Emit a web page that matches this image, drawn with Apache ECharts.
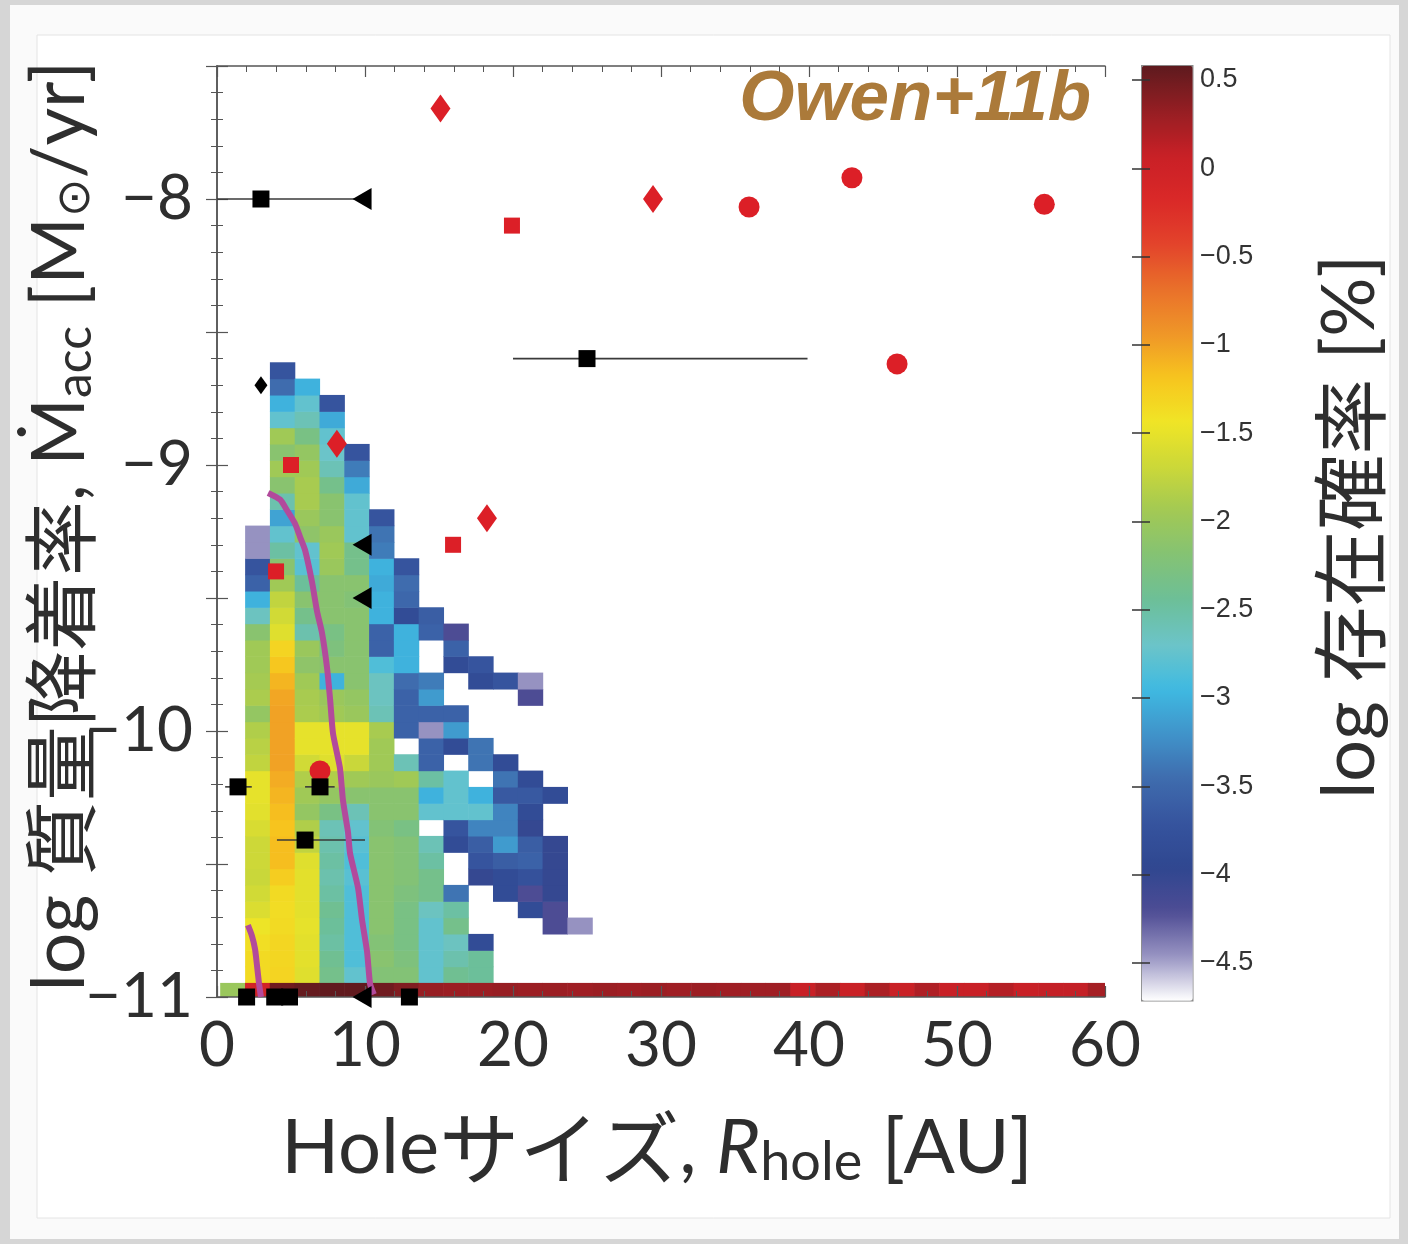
<!DOCTYPE html>
<html><head><meta charset="utf-8">
<script src="https://cdn.jsdelivr.net/npm/echarts@6/dist/echarts.min.js"></script>
<style>html,body{margin:0;padding:0;background:#fff}#c{width:1408px;height:1244px}</style>
</head><body><div id="c"></div>
<script>
// ---------- axis / tick values ----------
const xTicks = [0, 10, 20, 30, 40, 50, 60];
const yTickLabels = [-11, -10, -9, -8];
const cbTicks = [-4.5, -4, -3.5, -3, -2.5, -2, -1.5, -1, -0.5, 0, 0.5];

// ---------- histogram bins (data units) ----------
const binX0 = 1.9, binW = 1.675;          // R_hole bins [AU]
const binY0 = -10.947, binH = 0.0614;     // log Mdot bins
const stripX0 = 0.215, stripY0 = -11.0, stripH = 0.053; // non-accreting row

// log probability per column, listed from the lowest bin upward (null = empty)
const hc0 = [-1.35,-1.35,-1.38,-1.45,-1.58,-1.65,-1.7,-1.68,-1.68,-1.6,-1.53,-1.5,-1.5,-1.75,-1.8,-1.85,-2.05,-1.88,-1.92,-1.95,-1.95,-2.15,-2.65,-3.0,-3.55,-3.7,-4.45,-4.45];
const hc1 = [-1.3,-1.32,-1.32,-1.35,-1.36,-1.35,-1.25,-1.15,-1.15,-1.18,-1.15,-1.1,-1.05,-1.0,-1.0,-1.0,-1.0,-1.02,-1.1,-1.2,-1.3,-1.55,-1.65,-1.75,-1.95,-2.15,-2.5,-2.75,-3.1,-2.55,-2.15,-1.95,-2.15,-1.95,-2.75,-3.0,-3.45,-3.7];
const hc2 = [-1.55,-1.52,-1.52,-1.5,-1.52,-1.52,-1.52,-1.55,-1.75,-1.85,-2.05,-1.95,-1.85,-1.65,-1.5,-1.5,-1.88,-1.9,-1.95,-2.1,-2.0,-2.55,-2.35,-2.15,-2.45,-2.8,-2.75,-2.1,-2.0,-1.9,-1.9,-1.95,-2.05,-2.3,-2.6,-2.75,-3.0];
const hc3 = [-2.35,-2.4,-2.5,-2.45,-2.4,-2.5,-2.55,-2.5,-2.55,-2.6,-2.3,-2.05,-1.85,-1.55,-1.5,-1.5,-1.95,-2.0,-3.0,-2.15,-2.25,-2.3,-2.15,-2.15,-2.15,-2.0,-1.95,-2.0,-2.15,-2.15,-2.35,-2.6,-2.7,-2.75,-3.05,-3.7];
const hc4 = [-2.75,-2.85,-2.85,-2.85,-2.85,-2.85,-2.8,-2.85,-2.8,-2.75,-2.6,-2.15,-1.95,-1.7,-1.5,-1.5,-2.0,-2.05,-2.15,-2.15,-2.15,-2.15,-2.15,-2.2,-2.15,-2.35,-2.35,-2.75,-2.75,-2.75,-3.05,-3.35,-3.7];
const hc5 = [-2.2,-2.15,-2.2,-2.15,-2.15,-2.15,-2.15,-2.15,-2.15,-2.2,-2.15,-2.15,-2.0,-1.95,-1.95,-1.9,-2.6,-2.65,-2.65,-2.85,-3.55,-3.55,-3.0,-3.0,-3.05,-3.0,-3.35,-3.4,-3.7];
const hc6 = [-2.2,-2.25,-2.3,-2.3,-2.3,-2.25,-2.2,-2.2,-2.2,-2.3,-2.15,-2.15,-1.95,-2.6,null,-3.55,-3.55,-3.55,-3.45,-3.0,-3.0,-3.0,-3.85,-3.5,-3.45,-3.7];
const hc7 = [-2.75,-2.75,-2.75,-2.75,-2.65,-2.35,-2.35,-2.5,-2.6,null,-2.75,-3.0,-2.5,-3.55,-3.55,-4.45,-3.55,-3.15,-3.35,null,null,-3.55,-3.6];
const hc8 = [-2.4,-2.55,-2.65,-2.35,-2.5,-3.4,null,null,-3.85,-3.7,-2.75,-2.75,-2.75,null,-3.85,-3.15,-3.55,null,null,-3.85,-3.55,-4.2];
const hc9 = [-2.45,-2.45,-3.85,null,null,null,-4.0,-3.7,-3.6,-3.3,-2.75,-3.0,null,-3.4,-3.4,null,null,null,-3.85,-3.7];
const hc10 = [null,null,null,null,null,-3.85,-3.85,-3.6,-3.15,-3.3,-3.3,-3.65,-3.4,-3.85,null,null,null,null,-3.7];
const hc11 = [null,null,null,null,-3.85,-4.2,-3.75,-3.55,-3.6,-4.0,-3.85,-3.65,-3.85,null,null,null,null,-4.2,-4.45];
const hc12 = [null,null,null,-4.2,-4.2,-4.0,-4.0,-4.0,-4.0,null,null,-3.85];
const hc13 = [null,null,null,-4.45];

// non-accreting row (log Mdot < -11) per bin
const stripVals = [-2.0,-0.05,0.5,0.55,0.57,0.57,0.5,0.42,0.32,0.3,0.3,0.32,0.3,0.3,0.28,0.3,0.28,0.3,0.28,0.3,0.28,0.28,0.28,0.08,0.22,0.06,0.22,0.06,0.2,0.08,0.08,0.18,0.08,0.1,0.1,0.25];

// ---------- model curves ----------
const curveAx = [3.45,4.26,4.73,5.27,5.61,5.95,6.42,6.76,7.09,7.43,7.64,7.84,8.31,8.51,8.85,8.99,9.53,9.80,10.14,10.34,10.6];
const curveAy = [-9.105,-9.13,-9.17,-9.22,-9.27,-9.32,-9.44,-9.55,-9.63,-9.76,-9.88,-10.01,-10.14,-10.26,-10.38,-10.46,-10.59,-10.71,-10.83,-10.95,-10.99];
const curveBx = [2.09,2.36,2.57,2.70,2.84,2.97];
const curveBy = [-10.73,-10.77,-10.82,-10.88,-10.95,-11.0];

// ---------- observed objects ----------
const errLo = [0, 20.0, 0.55, 5.95, 4.05];
const errHi = [9.8, 39.9, 2.35, 7.95, 10.0];
const errY  = [-8.0, -8.6, -10.21, -10.21, -10.41];
const blkSqX = [2.97, 25.0, 1.42, 6.96, 5.95, 2.0, 3.9, 4.9, 13.0];
const blkSqY = [-8.0, -8.6, -10.21, -10.21, -10.41, -11, -11, -11, -11];
const blkTriX = [9.8, 9.8, 9.8, 9.8];
const blkTriY = [-8.0, -9.3, -9.5, -11];
const blkDiaX = [2.97];
const blkDiaY = [-8.70];
const redDiaX = [15.1, 29.46, 8.1, 18.24];
const redDiaY = [-7.66, -8.0, -8.92, -9.2];
const redSqX = [19.93, 5.0, 3.99, 15.95];
const redSqY = [-8.1, -9.0, -9.4, -9.3];
const redCirX = [35.95, 42.9, 55.9, 45.95, 6.96];
const redCirY = [-8.03, -7.92, -8.02, -8.62, -10.15];

// ---------- build ----------
const zip = (a, b) => a.map((v, i) => [v, b[i]]);
const heatCols = [hc0,hc1,hc2,hc3,hc4,hc5,hc6,hc7,hc8,hc9,hc10,hc11,hc12,hc13];
const heatData = [];
heatCols.forEach((col, c) => col.forEach((v, r) => {
  if (v !== null) heatData.push([binX0 + c * binW, binY0 + r * binH, v]);
}));
const stripData = stripVals.map((v, k) => [stripX0 + k * binW, stripY0, v]);
const errData = errLo.map((lo, i) => [lo, errHi[i], errY[i]]);

const cmap = ['#ffffff','#9894c2','#4e4c94','#2f4790','#36549e','#3f6cae','#4094ca','#3fbae2','#6cc4c8','#6cbf98','#84c274','#a2c954','#ccd838','#f0e526','#f7c41e','#ef9528','#e9702a','#e3432b','#da2828','#c82026','#941e23','#5e1a1e'];

const minus = v => (v < 0 ? '\u2212' : '') + Math.abs(v);
const txt = '#2e2e2e';
const axisCol = '#555';

function cellRender(w, h) {
  return function (params, api) {
    let x0 = api.value(0), y0 = api.value(1);
    let x1 = Math.min(x0 + w, 60); x0 = Math.max(x0, 0);
    const p0 = api.coord([x0, y0 + h]);
    const p1 = api.coord([x1, y0]);
    return {type: 'rect', shape: {x: p0[0], y: p0[1], width: p1[0] - p0[0] + 0.6, height: p1[1] - p0[1] + 0.6},
      style: {fill: api.visual('color')}};
  };
}

const mainAxisCommon = {
  gridIndex: 0, type: 'value', z: 10,
  axisLine: {show: true, lineStyle: {color: axisCol, width: 1.5}},
  axisTick: {show: true, inside: true, length: 11, lineStyle: {color: axisCol, width: 1.2}},
  minorTick: {show: true, splitNumber: 5, length: 6, lineStyle: {color: axisCol, width: 1}},
  splitLine: {show: false}
};

const markerBase = {opacity: 1};
const option = {
  animation: false,
  backgroundColor: 'transparent',
  grid: [
    {left: 217, top: 66, width: 888, height: 931, show: false},
    {left: 1141, top: 65, width: 51, height: 935, show: false}
  ],
  xAxis: [
    Object.assign({}, mainAxisCommon, {position: 'bottom', min: 0, max: 60, interval: 10,
      axisLabel: {show: true, margin: 18, fontSize: 62, fontFamily: 'Lato', color: txt, formatter: v => String(v)}}),
    Object.assign({}, mainAxisCommon, {position: 'top', min: 0, max: 60, interval: 10, axisLabel: {show: false}}),
    {gridIndex: 1, type: 'value', min: 0, max: 1, show: false}
  ],
  yAxis: [
    Object.assign({}, mainAxisCommon, {position: 'left', min: -11, max: -7.5, interval: 0.5,
      axisLabel: {show: true, margin: 24, fontSize: 62, fontFamily: 'Lato', color: txt,
        formatter: v => (yTickLabels.indexOf(Math.round(v * 10) / 10) >= 0) ? minus(Math.round(v)) : ''}}),
    Object.assign({}, mainAxisCommon, {position: 'right', min: -11, max: -7.5, interval: 0.5, axisLabel: {show: false}}),
    {gridIndex: 1, type: 'value', position: 'right', min: -4.71, max: 0.585, z: 10,
      axisLine: {show: false}, splitLine: {show: false},
      axisTick: {show: true, inside: true, length: 9, customValues: cbTicks, lineStyle: {color: '#333', width: 1.5}},
      axisLabel: {show: true, margin: 8, fontSize: 27, fontFamily: 'Liberation Sans', color: '#333', customValues: cbTicks,
        formatter: v => minus(Math.round(v * 10) / 10)}},
    {gridIndex: 1, type: 'value', position: 'left', min: -4.71, max: 0.585, z: 10,
      axisLine: {show: false}, splitLine: {show: false}, axisLabel: {show: false},
      axisTick: {show: true, inside: true, length: 9, customValues: cbTicks, lineStyle: {color: '#333', width: 1.5}}}
  ],
  visualMap: {
    type: 'continuous', min: -4.71, max: 0.585, dimension: 2, seriesIndex: [0, 1],
    inRange: {color: cmap}, calculable: false, hoverLink: false, realtime: false,
    orient: 'vertical', left: 1141, top: 65, itemWidth: 51, itemHeight: 935,
    padding: 0, text: null, borderColor: '#8a8a8a', borderWidth: 1.5
  },
  series: [
    {type: 'custom', name: 'heat', xAxisIndex: 0, yAxisIndex: 0, z: 2, clip: true,
      encode: {x: 0, y: 1}, renderItem: cellRender(binW, binH), data: heatData},
    {type: 'custom', name: 'strip', xAxisIndex: 0, yAxisIndex: 0, z: 2, clip: true,
      encode: {x: 0, y: 1}, renderItem: cellRender(binW, stripH), data: stripData},
    {type: 'custom', name: 'err', xAxisIndex: 0, yAxisIndex: 0, z: 12, clip: true, encode: {x: [0, 1], y: 2},
      renderItem: function (params, api) {
        const a = api.coord([api.value(0), api.value(2)]), b = api.coord([api.value(1), api.value(2)]);
        return {type: 'line', shape: {x1: a[0], y1: a[1], x2: b[0], y2: b[1]}, style: {stroke: '#3a3a3a', lineWidth: 1.6}};
      }, data: errData},
    {type: 'line', name: 'curveA', data: zip(curveAx, curveAy), symbol: 'none', smooth: 0.2, z: 14, clip: true,
      lineStyle: {color: '#b24a9c', width: 6, opacity: 1}},
    {type: 'line', name: 'curveB', data: zip(curveBx, curveBy), symbol: 'none', smooth: 0.2, z: 14, clip: true,
      lineStyle: {color: '#b24a9c', width: 6, opacity: 1}},
    {type: 'scatter', name: 'redCir', data: zip(redCirX, redCirY), symbol: 'circle', symbolSize: 21, z: 18,
      itemStyle: Object.assign({color: '#dc1f27'}, markerBase)},
    {type: 'scatter', name: 'redSq', data: zip(redSqX, redSqY), symbol: 'rect', symbolSize: 16, z: 18,
      itemStyle: Object.assign({color: '#dc1f27'}, markerBase)},
    {type: 'scatter', name: 'redDia', data: zip(redDiaX, redDiaY), symbol: 'diamond', symbolSize: [20, 28], z: 18,
      itemStyle: Object.assign({color: '#dc1f27'}, markerBase)},
    {type: 'scatter', name: 'blkSq', data: zip(blkSqX, blkSqY), symbol: 'rect', symbolSize: 17, z: 20, clip: false,
      itemStyle: Object.assign({color: '#000'}, markerBase)},
    {type: 'scatter', name: 'blkTri', data: zip(blkTriX, blkTriY), symbol: 'triangle', symbolSize: [22, 19], symbolRotate: 90, z: 20, clip: false,
      itemStyle: Object.assign({color: '#000'}, markerBase)},
    {type: 'scatter', name: 'blkDia', data: zip(blkDiaX, blkDiaY), symbol: 'diamond', symbolSize: [13, 18], z: 20,
      itemStyle: Object.assign({color: '#000'}, markerBase)},
    {type: 'scatter', name: 'cbDummy', xAxisIndex: 2, yAxisIndex: 2, data: []}
  ],
  graphic: [
    {type: 'rect', z: -30, silent: true, shape: {x: 0, y: 0, width: 1408, height: 1244}, style: {fill: '#d6d6d6'}},
    {type: 'rect', z: -29, silent: true, shape: {x: 10, y: 5, width: 1389, height: 1234}, style: {fill: '#fafafa'}},
    {type: 'rect', z: -28, silent: true, shape: {x: 37, y: 35, width: 1353, height: 1183}, style: {fill: '#ffffff', stroke: '#e4e4e4', lineWidth: 1}},
    {type: 'text', z: 50, x: 1091, y: 100, style: {text: 'Owen+11b', font: 'italic bold 71px "Liberation Sans"', fill: '#ab7a3a', align: 'right', verticalAlign: 'middle'}},
    {type: 'text', z: 50, x: 60, y: 526, rotation: Math.PI / 2, style: {
      text: '{n|log }{c|質量降着率}{n|, Ṁ}{s|acc}{n| [M}{sun|⊙}{n|/yr]}',
      align: 'center', verticalAlign: 'middle',
      rich: {
        n: {fontSize: 73, fontFamily: 'Lato, "DejaVu Sans"', fill: txt, lineHeight: 80},
        c: {fontSize: 75, fontFamily: '"Noto Sans CJK JP"', fill: txt, lineHeight: 80},
        s: {fontSize: 50, fontFamily: 'Lato', fill: txt, verticalAlign: 'bottom', lineHeight: 80},
        sun: {fontSize: 46, fontFamily: '"DejaVu Sans"', fill: txt, verticalAlign: 'bottom', lineHeight: 80}
      }}},
    {type: 'text', z: 50, x: 657, y: 1148, style: {
      text: '{n|Hole}{c|サイズ}{n|, }{i|R}{s|hole}{n| [AU]}',
      align: 'center', verticalAlign: 'middle',
      rich: {
        n: {fontSize: 76, fontFamily: 'Lato', fill: txt, lineHeight: 84},
        c: {fontSize: 80, fontFamily: '"Noto Sans CJK JP"', fill: txt, lineHeight: 84},
        i: {fontSize: 76, fontFamily: 'Lato', fontStyle: 'italic', fill: txt, lineHeight: 84},
        s: {fontSize: 54, fontFamily: 'Lato', fill: txt, verticalAlign: 'bottom', lineHeight: 84}
      }}},
    {type: 'text', z: 50, x: 1350, y: 527, rotation: Math.PI / 2, style: {
      text: '{n|log }{c|存在確率}{n| [%]}',
      align: 'center', verticalAlign: 'middle',
      rich: {
        n: {fontSize: 74, fontFamily: 'Lato', fill: txt, lineHeight: 80},
        c: {fontSize: 76, fontFamily: '"Noto Sans CJK JP"', fill: txt, lineHeight: 80}
      }}}
  ]
};

const chart = echarts.init(document.getElementById('c'), null, {renderer: 'canvas'});
chart.setOption(option);
</script></body></html>
